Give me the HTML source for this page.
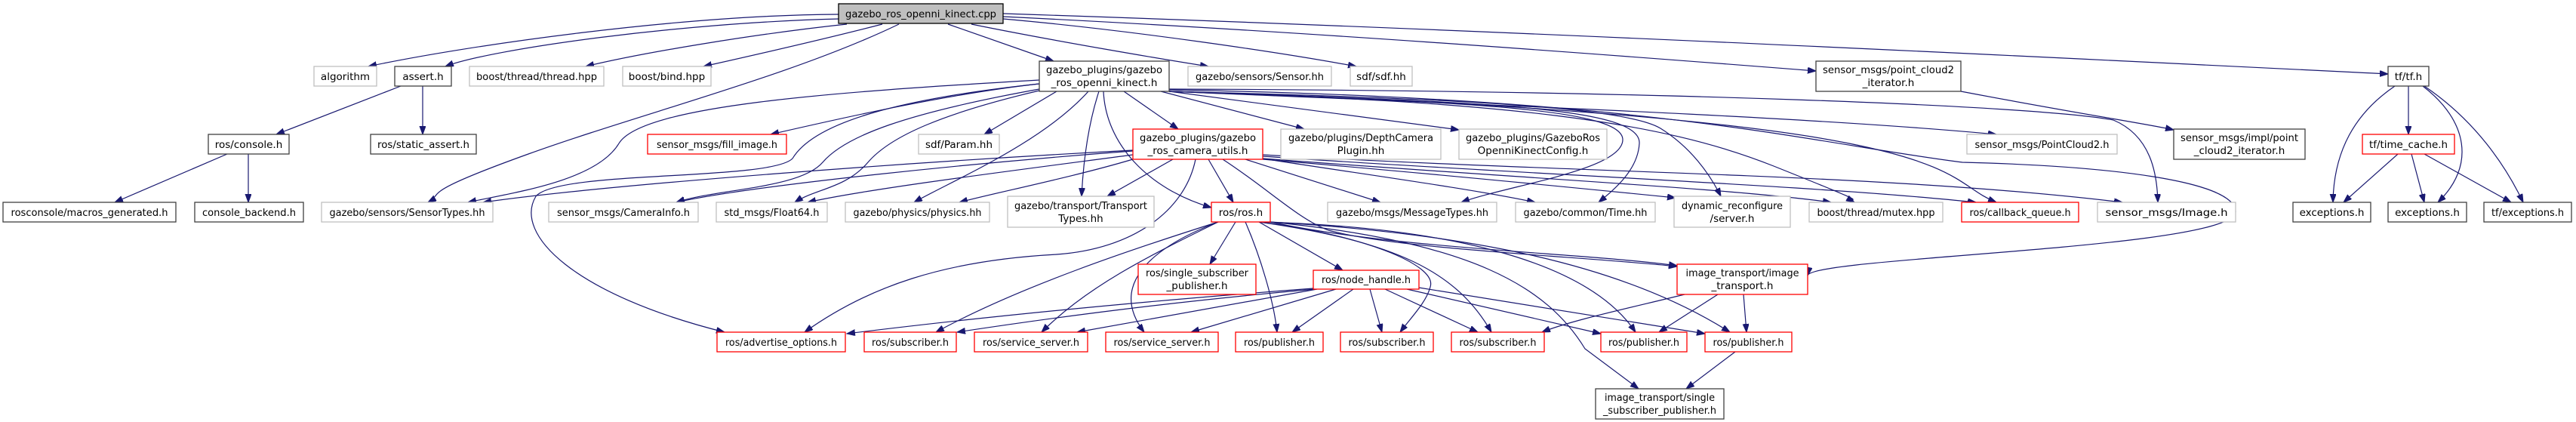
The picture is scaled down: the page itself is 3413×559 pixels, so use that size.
<!DOCTYPE html>
<html><head><meta charset="utf-8"><style>
html,body{margin:0;padding:0;background:#fff;}
svg{display:block;}
text{font-family:"DejaVu Sans","Liberation Sans",sans-serif;font-size:13.5px;fill:#000;text-anchor:middle;}
.e{fill:none;stroke:#191970;stroke-width:1.2;marker-end:url(#a);}
.k{fill:#fff;stroke:#404040;stroke-width:1.3;}
.g{fill:#fff;stroke:#bfbfbf;stroke-width:1.3;}
.r{fill:#fff;stroke:#ff0000;stroke-width:1.3;}
</style></head><body>
<svg width="3413" height="559" viewBox="0 0 3413 559" xmlns="http://www.w3.org/2000/svg">
<defs><marker id="a" markerWidth="12" markerHeight="9" refX="11" refY="4" orient="auto" markerUnits="userSpaceOnUse"><path d="M0,0 L11,4 L0,8 z" fill="#191970" stroke="#191970"/></marker></defs>

<!-- edges -->
<path class="e" d="M1111,19 C900,20 620,60 488,88"/>
<path class="e" d="M1112,25 C900,30 650,65 590,88"/>
<path class="e" d="M1122,32 C1000,45 850,70 776,88"/>
<path class="e" d="M1169,32 C1080,55 990,75 932,88"/>
<path class="e" d="M1191,32 C1050,100 850,150 700,204 S590,255 567,268"/>
<path class="e" d="M1256,32 L1396,81"/>
<path class="e" d="M1287,32 C1400,55 1550,80 1601,88"/>
<path class="e" d="M1329,25 C1500,40 1700,70 1797,88"/>
<path class="e" d="M1329,22 C1700,40 2100,70 2406,94"/>
<path class="e" d="M1329,18 C2000,40 2800,80 3164,98"/>
<path class="e" d="M531,114 L366,178"/>
<path class="e" d="M560,114 L560,178"/>
<path class="e" d="M301,204 L152,268"/>
<path class="e" d="M329,204 L329,268"/>

<path class="e" d="M1377,106 C1100,122 850,140 820,190 C790,240 680,255 620,268"/>
<path class="e" d="M1377,111 C1250,125 1100,160 1021,178"/>
<path class="e" d="M1400,121 L1304,178"/>
<path class="e" d="M1377,111 C1200,130 1080,160 1050,210 C1020,240 740,225 710,260 C680,310 760,390 960,440"/>
<path class="e" d="M1377,118 C1200,150 1120,180 1090,215 S950,250 896,268"/>
<path class="e" d="M1501,200 C1300,215 1000,245 896,268"/>
<path class="e" d="M1377,120 C1250,150 1180,180 1150,215 S1080,250 1053,268"/>
<path class="e" d="M1501,205 C1350,225 1150,250 1070,268"/>
<path class="e" d="M1442,121 C1380,190 1260,240 1211,268"/>
<path class="e" d="M1501,211 C1420,235 1320,255 1271,268"/>
<path class="e" d="M1456,121 C1440,170 1435,220 1433,260"/>
<path class="e" d="M1554,211 L1467,260"/>
<path class="e" d="M1489,121 L1561,171"/>
<path class="e" d="M1462,121 C1465,190 1520,250 1605,275"/>
<path class="e" d="M1601,211 L1634,268"/>
<path class="e" d="M1538,121 L1728,171"/>
<path class="e" d="M1549,121 C1700,140 1850,160 1933,172"/>
<path class="e" d="M1549,121 C1900,135 2150,140 2150,185 C2150,225 2000,245 1936,268"/>
<path class="e" d="M1650,211 L1829,268"/>
<path class="e" d="M1549,121 C1950,135 2175,140 2172,190 C2170,225 2140,250 2118,268"/>
<path class="e" d="M1673,210 C1800,230 1950,250 2034,268"/>
<path class="e" d="M1549,121 C1900,130 2150,140 2200,170 C2240,195 2265,230 2280,260"/>
<path class="e" d="M1673,211 C1900,230 2100,250 2220,262"/>
<path class="e" d="M1549,121 C2000,135 2200,160 2350,220 S2440,258 2457,268"/>
<path class="e" d="M1673,210 C2000,235 2300,250 2426,268"/>
<path class="e" d="M1549,121 C2000,135 2300,160 2450,190 S2600,250 2645,268"/>
<path class="e" d="M1673,207 C2000,230 2400,245 2618,268"/>
<path class="e" d="M1549,121 C2000,140 2400,155 2645,178"/>
<path class="e" d="M1673,205 C2100,230 2500,230 2812,268"/>
<path class="e" d="M1549,118 C2200,120 2700,140 2800,159 C2850,180 2858,230 2859,268"/>
<path class="e" d="M2598,121 C2750,150 2850,165 2880,172"/>
<path class="e" d="M1549,119 C2200,130 2400,190 2600,215 C2800,220 2960,240 2962,280 C2962,330 2400,340 2395,365"/>
<path class="e" d="M1501,199 C1200,215 800,245 640,268"/>
<path class="e" d="M1584,211 C1570,280 1500,330 1400,337 C1250,345 1150,380 1066,440"/>
<path class="e" d="M1620,211 C1680,250 1720,290 1760,305 C1850,330 2100,340 2222,353"/>

<path class="e" d="M1637,294 L1603,350"/>
<path class="e" d="M1668,294 L1779,358"/>
<path class="e" d="M1614,294 C1500,330 1350,380 1240,440"/>
<path class="e" d="M1614,294 C1520,340 1440,380 1380,440"/>
<path class="e" d="M1614,294 C1520,330 1470,380 1516,440"/>
<path class="e" d="M1650,294 C1670,340 1688,400 1692,440"/>
<path class="e" d="M1668,294 C1800,310 1905,350 1895,380 C1890,400 1870,420 1855,440"/>
<path class="e" d="M1668,294 C1850,320 1930,360 1976,440"/>
<path class="e" d="M1668,294 C1900,300 2100,340 2167,440"/>
<path class="e" d="M1683,294 C1950,310 2150,350 2292,440"/>
<path class="e" d="M1683,294 C1850,330 2100,335 2222,352"/>
<path class="e" d="M1683,294 C1950,320 2050,380 2100,462 L2171,515"/>

<path class="e" d="M1740,382 C1500,400 1300,420 1122,442"/>
<path class="e" d="M1742,383 C1550,400 1400,420 1268,440"/>
<path class="e" d="M1745,383 L1427,440"/>
<path class="e" d="M1770,383 L1578,440"/>
<path class="e" d="M1793,383 L1712,440"/>
<path class="e" d="M1815,383 L1831,440"/>
<path class="e" d="M1835,383 L1958,440"/>
<path class="e" d="M1864,383 L2121,442"/>
<path class="e" d="M1880,381 L2259,442"/>
<path class="e" d="M2276,390 L2198,440"/>
<path class="e" d="M2310,390 L2314,440"/>
<path class="e" d="M2232,390 C2150,410 2080,425 2043,440"/>
<path class="e" d="M2299,466 L2234,515"/>

<path class="e" d="M3173,114 C3120,150 3092,200 3091,268"/>
<path class="e" d="M3191,114 L3191,178"/>
<path class="e" d="M3210,114 C3270,160 3280,220 3230,268"/>
<path class="e" d="M3212,114 C3280,160 3320,220 3343,268"/>
<path class="e" d="M3177,204 L3105,268"/>
<path class="e" d="M3195,204 L3212,268"/>
<path class="e" d="M3212,204 L3327,268"/>

<!-- nodes -->
<rect x="1111" y="5" width="218" height="26" fill="#bfbfbf" stroke="#000" stroke-width="1.3"/><text x="1220" y="23" textLength="200" lengthAdjust="spacingAndGlyphs">gazebo_ros_openni_kinect.cpp</text>
<rect class="g" x="416" y="88" width="83" height="26"/><text x="457.5" y="106">algorithm</text>
<rect class="k" x="523" y="88" width="75" height="26"/><text x="560.5" y="106">assert.h</text>
<rect class="g" x="622" y="88" width="178" height="26"/><text x="711" y="106" textLength="160" lengthAdjust="spacingAndGlyphs">boost/thread/thread.hpp</text>
<rect class="g" x="825" y="88" width="117" height="26"/><text x="883.5" y="106">boost/bind.hpp</text>
<rect class="k" x="1377" y="81" width="172" height="40"/><text x="1463" y="97" textLength="154" lengthAdjust="spacingAndGlyphs">gazebo_plugins/gazebo</text><text x="1463" y="114">_ros_openni_kinect.h</text>
<rect class="g" x="1574" y="88" width="190" height="26"/><text x="1669" y="106" textLength="170" lengthAdjust="spacingAndGlyphs">gazebo/sensors/Sensor.hh</text>
<rect class="g" x="1789" y="88" width="82" height="26"/><text x="1830" y="106">sdf/sdf.hh</text>
<rect class="k" x="2406" y="81" width="192" height="40"/><text x="2502" y="97" textLength="174" lengthAdjust="spacingAndGlyphs">sensor_msgs/point_cloud2</text><text x="2502" y="114">_iterator.h</text>
<rect class="k" x="3164" y="88" width="54" height="26"/><text x="3191" y="106">tf/tf.h</text>

<rect class="k" x="276" y="178" width="107" height="26"/><text x="329.5" y="196">ros/console.h</text>
<rect class="k" x="491" y="178" width="140" height="26"/><text x="561" y="196" textLength="122" lengthAdjust="spacingAndGlyphs">ros/static_assert.h</text>
<rect class="r" x="858" y="178" width="184" height="26"/><text x="950" y="196" textLength="160" lengthAdjust="spacingAndGlyphs">sensor_msgs/fill_image.h</text>
<rect class="g" x="1217" y="178" width="107" height="26"/><text x="1270.5" y="196">sdf/Param.hh</text>
<rect class="r" x="1501" y="171" width="172" height="40"/><text x="1587" y="187" textLength="154" lengthAdjust="spacingAndGlyphs">gazebo_plugins/gazebo</text><text x="1587" y="204">_ros_camera_utils.h</text>
<rect class="g" x="1697" y="171" width="212" height="40"/><text x="1803" y="187" textLength="192" lengthAdjust="spacingAndGlyphs">gazebo/plugins/DepthCamera</text><text x="1803" y="204">Plugin.hh</text>
<rect class="g" x="1933" y="171" width="196" height="40"/><text x="2031" y="187" textLength="178" lengthAdjust="spacingAndGlyphs">gazebo_plugins/GazeboRos</text><text x="2031" y="204">OpenniKinectConfig.h</text>
<rect class="g" x="2606" y="178" width="199" height="26"/><text x="2705.5" y="196" textLength="178" lengthAdjust="spacingAndGlyphs">sensor_msgs/PointCloud2.h</text>
<rect class="k" x="2880" y="171" width="174" height="40"/><text x="2967" y="187" textLength="156" lengthAdjust="spacingAndGlyphs">sensor_msgs/impl/point</text><text x="2967" y="204">_cloud2_iterator.h</text>
<rect class="r" x="3130" y="178" width="122" height="26"/><text x="3191" y="196" textLength="104" lengthAdjust="spacingAndGlyphs">tf/time_cache.h</text>

<rect class="k" x="4" y="268" width="229" height="26"/><text x="118.5" y="286" textLength="208" lengthAdjust="spacingAndGlyphs">rosconsole/macros_generated.h</text>
<rect class="k" x="258" y="268" width="144" height="26"/><text x="330" y="286" textLength="124" lengthAdjust="spacingAndGlyphs">console_backend.h</text>
<rect class="g" x="426" y="268" width="227" height="26"/><text x="539.5" y="286" textLength="206" lengthAdjust="spacingAndGlyphs">gazebo/sensors/SensorTypes.hh</text>
<rect class="g" x="727" y="268" width="198" height="26"/><text x="826" y="286" textLength="176" lengthAdjust="spacingAndGlyphs">sensor_msgs/CameraInfo.h</text>
<rect class="g" x="949" y="268" width="147" height="26"/><text x="1022.5" y="286" textLength="126" lengthAdjust="spacingAndGlyphs">std_msgs/Float64.h</text>
<rect class="g" x="1120" y="268" width="191" height="26"/><text x="1215.5" y="286" textLength="170" lengthAdjust="spacingAndGlyphs">gazebo/physics/physics.hh</text>
<rect class="g" x="1335" y="260" width="194" height="41"/><text x="1432" y="277" textLength="176" lengthAdjust="spacingAndGlyphs">gazebo/transport/Transport</text><text x="1432" y="294">Types.hh</text>
<rect class="r" x="1605" y="268" width="78" height="26"/><text x="1644" y="286">ros/ros.h</text>
<rect class="g" x="1759" y="268" width="224" height="26"/><text x="1871" y="286" textLength="202" lengthAdjust="spacingAndGlyphs">gazebo/msgs/MessageTypes.hh</text>
<rect class="g" x="2008" y="268" width="185" height="26"/><text x="2100.5" y="286" textLength="164" lengthAdjust="spacingAndGlyphs">gazebo/common/Time.hh</text>
<rect class="g" x="2218" y="260" width="154" height="41"/><text x="2295" y="277" textLength="134" lengthAdjust="spacingAndGlyphs">dynamic_reconfigure</text><text x="2295" y="294">/server.h</text>
<rect class="g" x="2397" y="268" width="177" height="26"/><text x="2485.5" y="286" textLength="156" lengthAdjust="spacingAndGlyphs">boost/thread/mutex.hpp</text>
<rect class="r" x="2599" y="268" width="155" height="26"/><text x="2676.5" y="286" textLength="134" lengthAdjust="spacingAndGlyphs">ros/callback_queue.h</text>
<rect class="g" x="2779" y="268" width="183" height="26"/><text x="2870.5" y="286" textLength="162" lengthAdjust="spacingAndGlyphs">sensor_msgs/Image.h</text>
<rect class="k" x="3038" y="268" width="103" height="26"/><text x="3089.5" y="286">exceptions.h</text>
<rect class="k" x="3164" y="268" width="104" height="26"/><text x="3216" y="286">exceptions.h</text>
<rect class="k" x="3291" y="268" width="116" height="26"/><text x="3349" y="286" textLength="96" lengthAdjust="spacingAndGlyphs">tf/exceptions.h</text>

<rect class="r" x="1508" y="350" width="156" height="40"/><text x="1586" y="366" textLength="136" lengthAdjust="spacingAndGlyphs">ros/single_subscriber</text><text x="1586" y="383">_publisher.h</text>
<rect class="r" x="1740" y="358" width="140" height="25"/><text x="1810" y="375" textLength="118" lengthAdjust="spacingAndGlyphs">ros/node_handle.h</text>
<rect class="r" x="2222" y="350" width="173" height="40"/><text x="2308.5" y="366" textLength="150" lengthAdjust="spacingAndGlyphs">image_transport/image</text><text x="2308.5" y="383">_transport.h</text>

<rect class="r" x="950" y="440" width="170" height="26"/><text x="1035" y="458" textLength="148" lengthAdjust="spacingAndGlyphs">ros/advertise_options.h</text>
<rect class="r" x="1145" y="440" width="122" height="26"/><text x="1206" y="458" textLength="102" lengthAdjust="spacingAndGlyphs">ros/subscriber.h</text>
<rect class="r" x="1291" y="440" width="150" height="26"/><text x="1366" y="458" textLength="128" lengthAdjust="spacingAndGlyphs">ros/service_server.h</text>
<rect class="r" x="1465" y="440" width="149" height="26"/><text x="1539.5" y="458" textLength="128" lengthAdjust="spacingAndGlyphs">ros/service_server.h</text>
<rect class="r" x="1637" y="440" width="116" height="26"/><text x="1695" y="458" textLength="94" lengthAdjust="spacingAndGlyphs">ros/publisher.h</text>
<rect class="r" x="1776" y="440" width="123" height="26"/><text x="1837.5" y="458" textLength="102" lengthAdjust="spacingAndGlyphs">ros/subscriber.h</text>
<rect class="r" x="1923" y="440" width="123" height="26"/><text x="1984.5" y="458" textLength="102" lengthAdjust="spacingAndGlyphs">ros/subscriber.h</text>
<rect class="r" x="2121" y="440" width="114" height="26"/><text x="2178" y="458" textLength="94" lengthAdjust="spacingAndGlyphs">ros/publisher.h</text>
<rect class="r" x="2259" y="440" width="115" height="26"/><text x="2316.5" y="458" textLength="94" lengthAdjust="spacingAndGlyphs">ros/publisher.h</text>

<rect class="k" x="2114" y="515" width="170" height="40"/><text x="2199" y="531" textLength="146" lengthAdjust="spacingAndGlyphs">image_transport/single</text><text x="2199" y="548" textLength="150" lengthAdjust="spacingAndGlyphs">_subscriber_publisher.h</text>
</svg>
</body></html>
